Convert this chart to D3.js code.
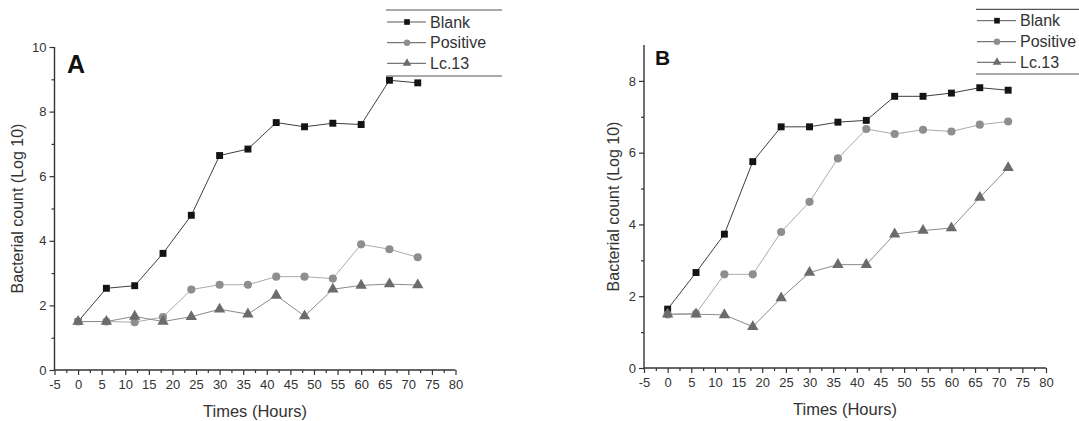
<!DOCTYPE html>
<html>
<head>
<meta charset="utf-8">
<script src="https://cdn.jsdelivr.net/npm/d3@7/dist/d3.min.js"></script>
<style>
html,body{margin:0;padding:0;background:#fff;}
svg{display:block;font-family:"Liberation Sans",Arial,Helvetica,sans-serif;}
</style>
</head>
<body>
<svg id="chart" width="1079" height="421"></svg>
<script>
// ---- data ----
const hours = [0, 6, 12, 18, 24, 30, 36, 42, 48, 54, 60, 66, 72];
const xTicks = [-5, 0, 5, 10, 15, 20, 25, 30, 35, 40, 45, 50, 55, 60, 65, 70, 75, 80];
const seriesNames = ["Blank", "Positive", "Lc.13"];

const blankA    = [1.50, 2.53, 2.61, 3.61, 4.79, 6.64, 6.84, 7.66, 7.53, 7.64, 7.60, 8.97, 8.89];
const positiveA = [1.50, 1.50, 1.48, 1.64, 2.49, 2.64, 2.64, 2.89, 2.89, 2.83, 3.89, 3.74, 3.49];
const lc13A     = [1.50, 1.50, 1.66, 1.50, 1.65, 1.88, 1.73, 2.31, 1.67, 2.50, 2.62, 2.66, 2.63];

const blankB    = [1.64, 2.66, 3.73, 5.75, 6.72, 6.72, 6.85, 6.90, 7.57, 7.57, 7.66, 7.81, 7.74];
const positiveB = [1.49, 1.52, 2.61, 2.61, 3.79, 4.63, 5.84, 6.66, 6.52, 6.64, 6.59, 6.78, 6.87];
const lc13B     = [1.50, 1.50, 1.48, 1.15, 1.95, 2.66, 2.88, 2.88, 3.73, 3.83, 3.90, 4.75, 5.58];

const yTicksA = [0, 2, 4, 6, 8, 10];
const yTicksB = [0, 2, 4, 6, 8];

// ---- styling ----
const styles = [
  {marker: "square",   fill: "#141414", line: "#3f3f3f"},
  {marker: "circle",   fill: "#8e8e8e", line: "#aaaaaa"},
  {marker: "triangle", fill: "#6b6b6b", line: "#8a8a8a"}
];
const axisColor = "#333";
const textColor = "#333";

const svg = d3.select("#chart");

function symbolType(type) {
  return type === "square" ? d3.symbolSquare : type === "circle" ? d3.symbolCircle : d3.symbolTriangle;
}
function markerPath(type) {
  const size = type === "square" ? 48 : type === "circle" ? 52 : 56;
  return d3.symbol(symbolType(type), size)();
}

function drawPanel(cfg) {
  const g = svg.append("g");
  const x = d3.scaleLinear().domain([-5, 80]).range(cfg.xRange);
  const y = d3.scaleLinear().domain([0, cfg.yMax]).range(cfg.yRange);
  const fmt = d => String(d);

  // x axis
  const xAxis = g.append("g").attr("transform", `translate(0,${cfg.yRange[0]})`)
    .call(d3.axisBottom(x).tickValues(xTicks).tickSize(5).tickPadding(5).tickFormat(fmt));
  g.append("g").attr("transform", `translate(0,${cfg.yRange[0]})`)
    .call(d3.axisBottom(x).tickValues(d3.range(-2.5, 80, 5)).tickSize(3).tickFormat(""))
    .select(".domain").remove();

  // y axis
  const yAxis = g.append("g").attr("transform", `translate(${cfg.xRange[0]},0)`)
    .call(d3.axisLeft(y).tickValues(cfg.yTicks).tickSize(5).tickPadding(3).tickFormat(fmt));
  g.append("g").attr("transform", `translate(${cfg.xRange[0]},0)`)
    .call(d3.axisLeft(y).tickValues(d3.range(1, cfg.yMax, 2)).tickSize(3).tickFormat(""))
    .select(".domain").remove();

  g.selectAll(".domain").attr("stroke", axisColor).attr("stroke-width", 1.4);
  g.selectAll(".tick line").attr("stroke", axisColor).attr("stroke-width", 1.2);
  g.selectAll(".tick text").attr("fill", textColor).style("font-size", "13px")
    .style("font-family", "'Liberation Sans', Arial, sans-serif");

  xAxis.select(".domain").attr("d", `M${cfg.xRange[0]},0H${cfg.xRange[1]}`);
  yAxis.select(".domain").attr("d", `M0,${cfg.yRange[0]}V${cfg.yRange[1]}`);

  // axis titles
  g.append("text")
    .attr("x", (cfg.xRange[0] + cfg.xRange[1]) / 2)
    .attr("y", cfg.xTitleY)
    .attr("text-anchor", "middle")
    .attr("fill", textColor)
    .style("font-size", "16.5px")
    .text("Times (Hours)");
  g.append("text")
    .attr("transform", `translate(${cfg.yTitleX},${(cfg.yRange[0] + cfg.yRange[1]) / 2}) rotate(-90)`)
    .attr("text-anchor", "middle")
    .attr("fill", textColor)
    .style("font-size", "16px")
    .text("Bacterial count (Log 10)");

  // panel letter
  g.append("text")
    .attr("x", cfg.letterPos[0]).attr("y", cfg.letterPos[1])
    .attr("fill", "#111")
    .style("font-size", cfg.letterSize + "px")
    .style("font-weight", "bold")
    .text(cfg.letter);

  // series
  const line = d3.line().x((d, i) => x(hours[i])).y(d => y(d));
  cfg.series.forEach((vals, si) => {
    const st = styles[si];
    g.append("path").datum(vals)
      .attr("d", line)
      .attr("fill", "none")
      .attr("stroke", st.line)
      .attr("stroke-width", 1);
  });
  cfg.series.forEach((vals, si) => {
    const st = styles[si];
    g.append("g").selectAll("path").data(vals).join("path")
      .attr("transform", (d, i) => `translate(${x(hours[i])},${y(d)})`)
      .attr("d", markerPath(st.marker))
      .attr("fill", st.fill);
  });

  // legend
  const lg = g.append("g");
  const L = cfg.legend;
  lg.append("line").attr("x1", L.x0).attr("x2", L.x1).attr("y1", L.top).attr("y2", L.top)
    .attr("stroke", "#555").attr("stroke-width", 1.2);
  lg.append("line").attr("x1", L.x0).attr("x2", L.x1).attr("y1", L.bottom).attr("y2", L.bottom)
    .attr("stroke", "#555").attr("stroke-width", 1.2);
  seriesNames.forEach((name, si) => {
    const st = styles[si];
    const ry = L.rows[si];
    lg.append("line").attr("x1", L.x0 + 1).attr("x2", L.x0 + 40).attr("y1", ry).attr("y2", ry)
      .attr("stroke", "#555").attr("stroke-width", 1);
    lg.append("path").attr("transform", `translate(${L.x0 + 21},${ry})`)
      .attr("d", d3.symbol(symbolType(st.marker), 32)())
      .attr("fill", st.fill);
    lg.append("text").attr("x", L.x0 + 44).attr("y", ry + 5.5)
      .attr("fill", textColor).style("font-size", "16px").text(name);
  });
}

drawPanel({
  xRange: [54.5, 455.5], yRange: [370, 47], yMax: 10, yTicks: yTicksA,
  xTitleY: 417, yTitleX: 23,
  letter: "A", letterPos: [67, 73], letterSize: 25,
  series: [blankA, positiveA, lc13A],
  legend: {x0: 386, x1: 502, top: 10, bottom: 76, rows: [22, 42.7, 63.3]}
});

drawPanel({
  xRange: [644, 1046], yRange: [368, 45], yMax: 9, yTicks: yTicksB,
  xTitleY: 415, yTitleX: 619,
  letter: "B", letterPos: [655, 65], letterSize: 21,
  series: [blankB, positiveB, lc13B],
  legend: {x0: 976, x1: 1079, top: 9.3, bottom: 74, rows: [20.7, 41.7, 62.3]}
});
</script>
</body>
</html>
